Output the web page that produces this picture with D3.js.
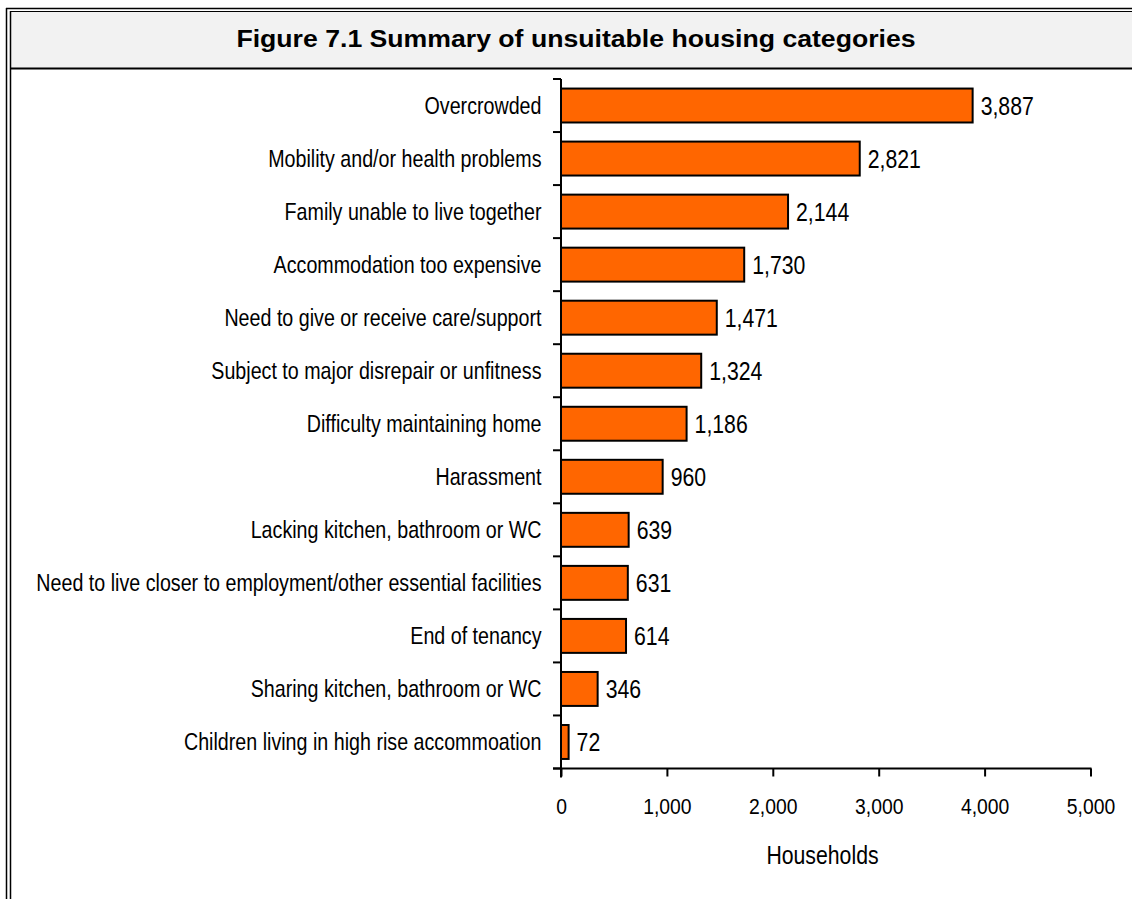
<!DOCTYPE html>
<html>
<head>
<meta charset="utf-8">
<script src="https://cdn.jsdelivr.net/npm/d3@7"></script>
<style>
  html, body { margin: 0; padding: 0; background: #fff; }
  svg { display: block; }
  text { font-family: "Liberation Sans", Arial, Helvetica, sans-serif; fill: #000; }
</style>
</head>
<body>
<svg id="chart" width="1132" height="899"></svg>
<script>
// Unsuitable housing categories and household counts
const categories = [
  "Overcrowded",
  "Mobility and/or health problems",
  "Family unable to live together",
  "Accommodation too expensive",
  "Need to give or receive care/support",
  "Subject to major disrepair or unfitness",
  "Difficulty maintaining home",
  "Harassment",
  "Lacking kitchen, bathroom or WC",
  "Need to live closer to employment/other essential facilities",
  "End of tenancy",
  "Sharing kitchen, bathroom or WC",
  "Children living in high rise accommoation"
];
const households = [3887, 2821, 2144, 1730, 1471, 1324, 1186, 960, 639, 631, 614, 346, 72];
const xTicks = [0, 1000, 2000, 3000, 4000, 5000];
const title = "Figure 7.1 Summary of unsuitable housing categories";
const xAxisTitle = "Households";

const W = 1132, H = 899;
const svg = d3.select("#chart");
const fmt = d3.format(",");

// Text drawn with a horizontal squeeze/stretch around its anchor point
function narrowText(sel, px, py, sx) {
  return sel.attr("x", 0).attr("y", 0)
    .attr("transform", (d, i) => `translate(${typeof px === "function" ? px(d, i) : px},${typeof py === "function" ? py(d, i) : py}) scale(${sx},1)`);
}

// Frame: double rule along top and left, grey title band
svg.append("rect").attr("x", 11).attr("y", 12).attr("width", W - 11).attr("height", 56)
  .attr("fill", "#f2f2f2");
svg.append("line").attr("x1", 6).attr("x2", W).attr("y1", 8.5).attr("y2", 8.5)
  .attr("stroke", "#000").attr("stroke-width", 1.5);
svg.append("line").attr("x1", 10.5).attr("x2", W).attr("y1", 11.5).attr("y2", 11.5)
  .attr("stroke", "#000").attr("stroke-width", 1.2);
svg.append("line").attr("x1", 6.5).attr("x2", 6.5).attr("y1", 8).attr("y2", H)
  .attr("stroke", "#000").attr("stroke-width", 1.5);
svg.append("line").attr("x1", 10.5).attr("x2", 10.5).attr("y1", 11).attr("y2", H)
  .attr("stroke", "#000").attr("stroke-width", 1.5);
svg.append("line").attr("x1", 10.5).attr("x2", W).attr("y1", 68.5).attr("y2", 68.5)
  .attr("stroke", "#000").attr("stroke-width", 2);

narrowText(svg.append("text").attr("text-anchor", "middle")
  .attr("font-size", 24).attr("font-weight", "bold").text(title), 576, 47, 1.11);

// Plot area
const x0 = 561, x1 = 1090.5, yTop = 79, yBottom = 768.5;
const x = d3.scaleLinear().domain([0, 5000]).range([x0, x1]);
const y = d3.scaleBand().domain(categories).range([yTop, yBottom]).paddingInner(0.36).paddingOuter(0.18);

const g = svg.append("g");

// Bars
g.selectAll("rect.bar").data(categories).join("rect")
  .attr("class", "bar")
  .attr("x", x(0))
  .attr("y", d => y(d))
  .attr("width", (d, i) => x(households[i]) - x(0))
  .attr("height", y.bandwidth())
  .attr("fill", "#ff6600")
  .attr("stroke", "#000")
  .attr("stroke-width", 2);

// Value labels
narrowText(g.selectAll("text.val").data(categories).join("text")
  .attr("class", "val")
  .attr("font-size", 25)
  .text((d, i) => fmt(households[i])),
  (d, i) => x(households[i]) + 8, d => y(d) + y.bandwidth() / 2 + 9, 0.85);

// Category labels
narrowText(g.selectAll("text.cat").data(categories).join("text")
  .attr("class", "cat")
  .attr("text-anchor", "end")
  .attr("font-size", 24)
  .text(d => d),
  541.5, d => y(d) + y.bandwidth() / 2 + 8.5, 0.82);

// Y axis line with ticks at band boundaries
const bounds = d3.range(categories.length + 1).map(i => yTop + i * (yBottom - yTop) / categories.length);
g.append("line").attr("x1", x0).attr("x2", x0).attr("y1", yTop).attr("y2", yBottom + 9)
  .attr("stroke", "#000").attr("stroke-width", 2);
g.selectAll("line.ytick").data(bounds).join("line")
  .attr("class", "ytick")
  .attr("x1", x0 - 8).attr("x2", x0)
  .attr("y1", d => d).attr("y2", d => d)
  .attr("stroke", "#000").attr("stroke-width", 2);

// X axis
const xAxis = d3.axisBottom(x).tickValues(xTicks).tickFormat(fmt).tickSize(8);
const xa = g.append("g").attr("transform", `translate(0,${yBottom})`).call(xAxis);
xa.select(".domain").remove();
xa.selectAll(".tick line").attr("stroke", "#000").attr("stroke-width", 2);
xa.selectAll(".tick text")
  .attr("font-size", 22.5).attr("font-family", null).attr("fill", "#000")
  .attr("dy", null).attr("y", 0)
  .attr("transform", "translate(0,45.5) scale(0.86,1)");
xa.append("line").attr("x1", x0 - 8).attr("x2", x1 + 1).attr("y1", 0).attr("y2", 0)
  .attr("stroke", "#000").attr("stroke-width", 2);

narrowText(svg.append("text").attr("text-anchor", "middle")
  .attr("font-size", 25).text(xAxisTitle), 822.5, 864, 0.85);
</script>
</body>
</html>
